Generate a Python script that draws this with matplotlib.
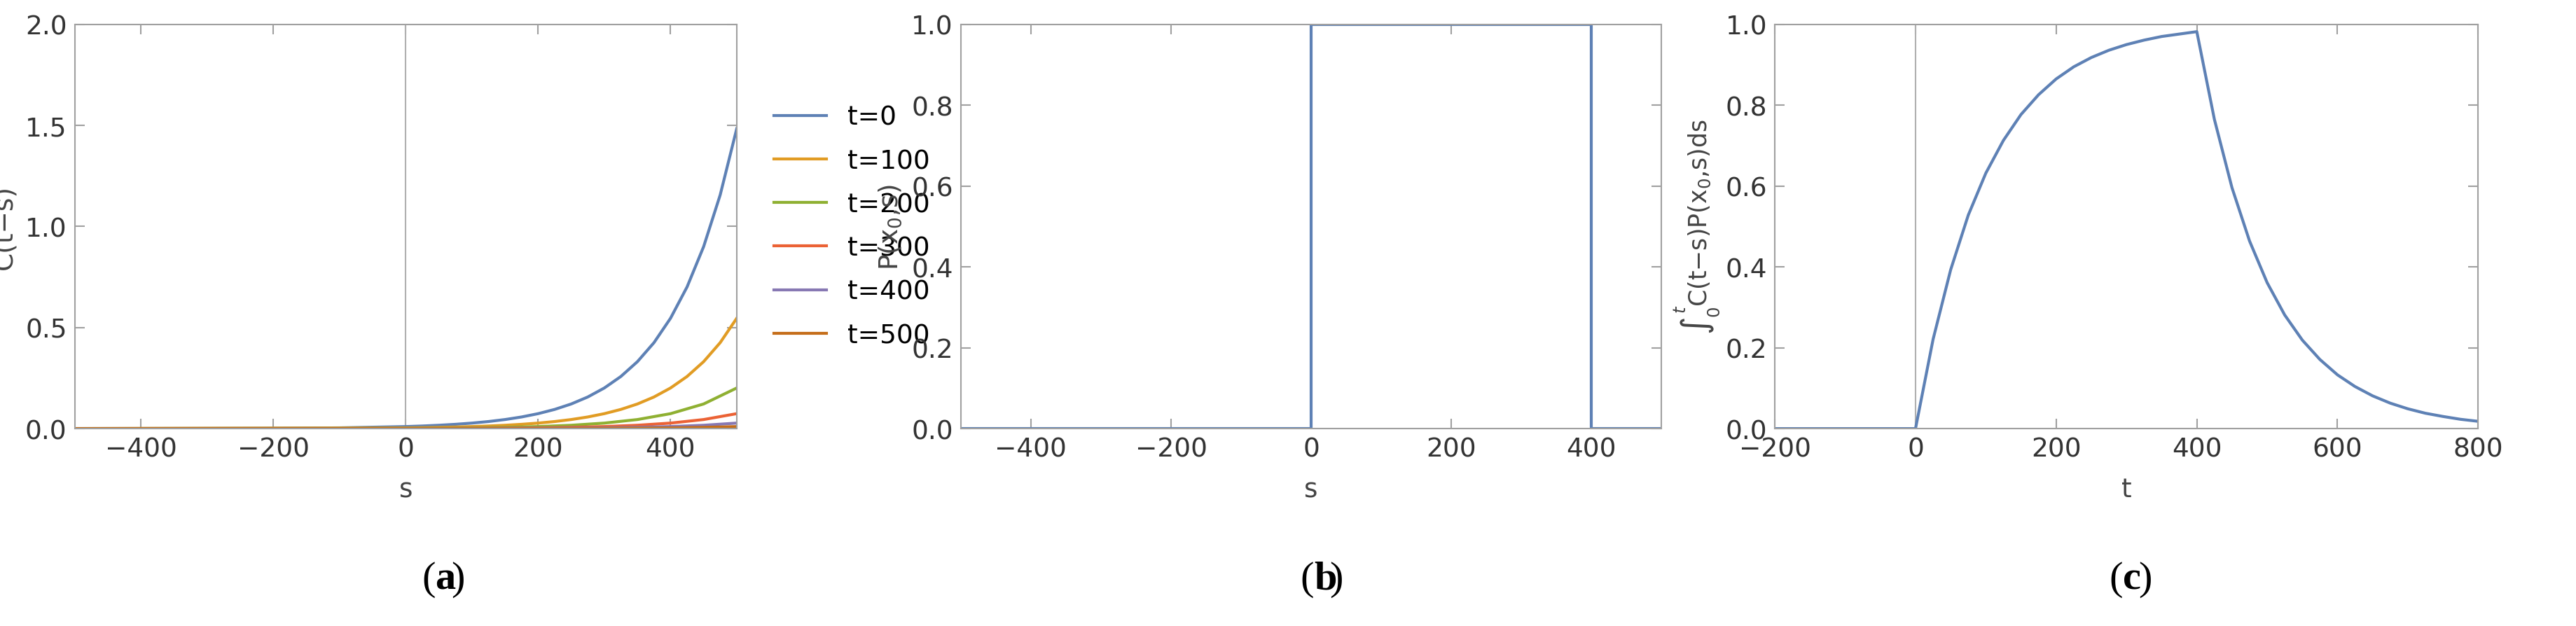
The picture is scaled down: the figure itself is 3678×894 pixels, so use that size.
import matplotlib
matplotlib.use("Agg")
import matplotlib.pyplot as plt

# ---- data ----
s_neg = [-500, -400, -300, -200, -100]
s25 = [0, 25, 50, 75, 100, 125, 150, 175, 200, 225, 250, 275, 300, 325, 350, 375, 400, 425, 450, 475, 500]
s50 = [0, 50, 100, 150, 200, 250, 300, 350, 400, 450, 500]
labels_a = ["t=0", "t=100", "t=200", "t=300", "t=400", "t=500"]
c_t0_neg = [0.0001, 0.0002, 0.0005, 0.0014, 0.0037]
c_t0 = [0.0100, 0.0128, 0.0165, 0.0212, 0.0272, 0.0349, 0.0448, 0.0575, 0.0739, 0.0949, 0.1218,
        0.1564, 0.2009, 0.2579, 0.3312, 0.4252, 0.5460, 0.7011, 0.9003, 1.156, 1.484]
c_t100 = [0.0037, 0.0047, 0.0061, 0.0078, 0.0100, 0.0128, 0.0165, 0.0212, 0.0272, 0.0349, 0.0448,
          0.0575, 0.0739, 0.0949, 0.1218, 0.1564, 0.2009, 0.2579, 0.3312, 0.4252, 0.5460]
c_t200 = [0.0014, 0.0022, 0.0037, 0.0061, 0.0100, 0.0165, 0.0272, 0.0448, 0.0739, 0.1218, 0.2009]
c_t300 = [0.0005, 0.0008, 0.0014, 0.0022, 0.0037, 0.0061, 0.0100, 0.0165, 0.0272, 0.0448, 0.0739]
c_t400 = [0.0002, 0.0003, 0.0005, 0.0008, 0.0014, 0.0022, 0.0037, 0.0061, 0.0100, 0.0165, 0.0272]
c_t500 = [0.0001, 0.0001, 0.0002, 0.0003, 0.0005, 0.0008, 0.0014, 0.0022, 0.0037, 0.0061, 0.0100]

p_s = [-500, 0, 0, 400, 400, 500]
p_val = [0, 0, 1, 1, 0, 0]

t_c = [-200, 0, 25, 50, 75, 100, 125, 150, 175, 200, 225, 250, 275, 300, 325, 350, 375, 400,
       425, 450, 475, 500, 525, 550, 575, 600, 625, 650, 675, 700, 725, 750, 775, 800]
i_c = [0, 0, 0.221, 0.393, 0.528, 0.632, 0.713, 0.777, 0.826, 0.865, 0.895, 0.918, 0.936, 0.950,
       0.961, 0.970, 0.976, 0.982, 0.765, 0.596, 0.464, 0.361, 0.281, 0.219, 0.171, 0.133, 0.104,
       0.081, 0.063, 0.049, 0.038, 0.030, 0.023, 0.018]

colors = ["#5E81B5", "#E19C24", "#8FB032", "#EB6235", "#8778B3", "#C56E1A"]

plt.rcParams['font.family'] = ['DejaVu Sans']
plt.rcParams['mathtext.fontset'] = 'dejavusans'
fig = plt.figure(figsize=(36.78, 8.95), dpi=100)
FS = 27

def style(ax):
    for sp in ax.spines.values():
        sp.set_color("#a0a0a0")
        sp.set_linewidth(1.5)
    ax.tick_params(direction='in', labelsize=FS, colors="#a0a0a0", labelcolor="#333333", length=10, width=1.5,
                   top=True, right=True, pad=8)

ax1 = fig.add_axes([0.029, 0.315, 0.257, 0.645])
ax1.axvline(0, color="#b0b0b0", lw=1.5)
series = [c_t0_neg + c_t0, c_t100, c_t200, c_t300, c_t400, c_t500]
xs = [s_neg + s25, s25, s50, s50, s50, s50]
for k in range(6):
    x = xs[k]; y = series[k]
    if k > 0:
        x = [-500] + x; y = [0.0] + y
    ax1.plot(x, y, color=colors[k], lw=3, label=labels_a[k])
ax1.set_xlim(-500, 500); ax1.set_ylim(0, 2.0)
ax1.set_xticks([-400, -200, 0, 200, 400])
ax1.set_yticks([0, 0.5, 1.0, 1.5, 2.0])
ax1.set_yticklabels(["0.0", "0.5", "1.0", "1.5", "2.0"])
ax1.set_xlabel("s", fontsize=FS, color="#444444", labelpad=16)
ax1.set_ylabel("C(t\u2212s)", fontsize=FS, color="#444444", labelpad=8)
style(ax1)
ax1.legend(loc='center left', bbox_to_anchor=(1.02, 0.5), frameon=False, fontsize=FS,
           handlelength=2.0, labelspacing=0.7)

ax2 = fig.add_axes([0.373, 0.315, 0.272, 0.645])
ax2.plot(p_s, p_val, color=colors[0], lw=3)
ax2.set_xlim(-500, 500); ax2.set_ylim(0, 1.0)
ax2.set_xticks([-400, -200, 0, 200, 400])
ax2.set_yticks([0, 0.2, 0.4, 0.6, 0.8, 1.0])
ax2.set_yticklabels(["0.0", "0.2", "0.4", "0.6", "0.8", "1.0"])
ax2.set_xlabel("s", fontsize=FS, color="#444444", labelpad=16)
ax2.set_ylabel(r"P(x$_0$,s)", fontsize=FS, color="#444444", labelpad=8)
style(ax2)

ax3 = fig.add_axes([0.689, 0.315, 0.273, 0.645])
ax3.axvline(0, color="#b0b0b0", lw=1.5)
ax3.plot(t_c, i_c, color=colors[0], lw=3)
ax3.set_xlim(-200, 800); ax3.set_ylim(0, 1.0)
ax3.set_xticks([-200, 0, 200, 400, 600, 800])
ax3.set_xticklabels(["\u2212200", "0", "200", "400", "600", "800"])
ax3.set_yticks([0, 0.2, 0.4, 0.6, 0.8, 1.0])
ax3.set_yticklabels(["0.0", "0.2", "0.4", "0.6", "0.8", "1.0"])
ax3.set_xlabel("t", fontsize=FS, color="#444444", labelpad=16)
ax3.set_ylabel(r"$\int_0^t$C(t$-$s)P(x$_0$,s)ds", fontsize=25, color="#444444", labelpad=4)
style(ax3)
for ax in (ax1, ax2):
    ax.set_xticklabels(["\u2212400", "\u2212200", "0", "200", "400"])

for lab, xc in [("a", 0.169), ("b", 0.510), ("c", 0.824)]:
    fig.text(xc, 0.075, "(", ha='right', va='center', fontsize=42, family='Liberation Serif')
    fig.text(xc, 0.075, lab, ha='left', va='center', fontsize=42, family='Liberation Serif',
             weight='bold')
    fig.text(xc + 0.0062, 0.075, ")", ha='left', va='center', fontsize=42, family='Liberation Serif')

fig.savefig("out.png", dpi=100)
